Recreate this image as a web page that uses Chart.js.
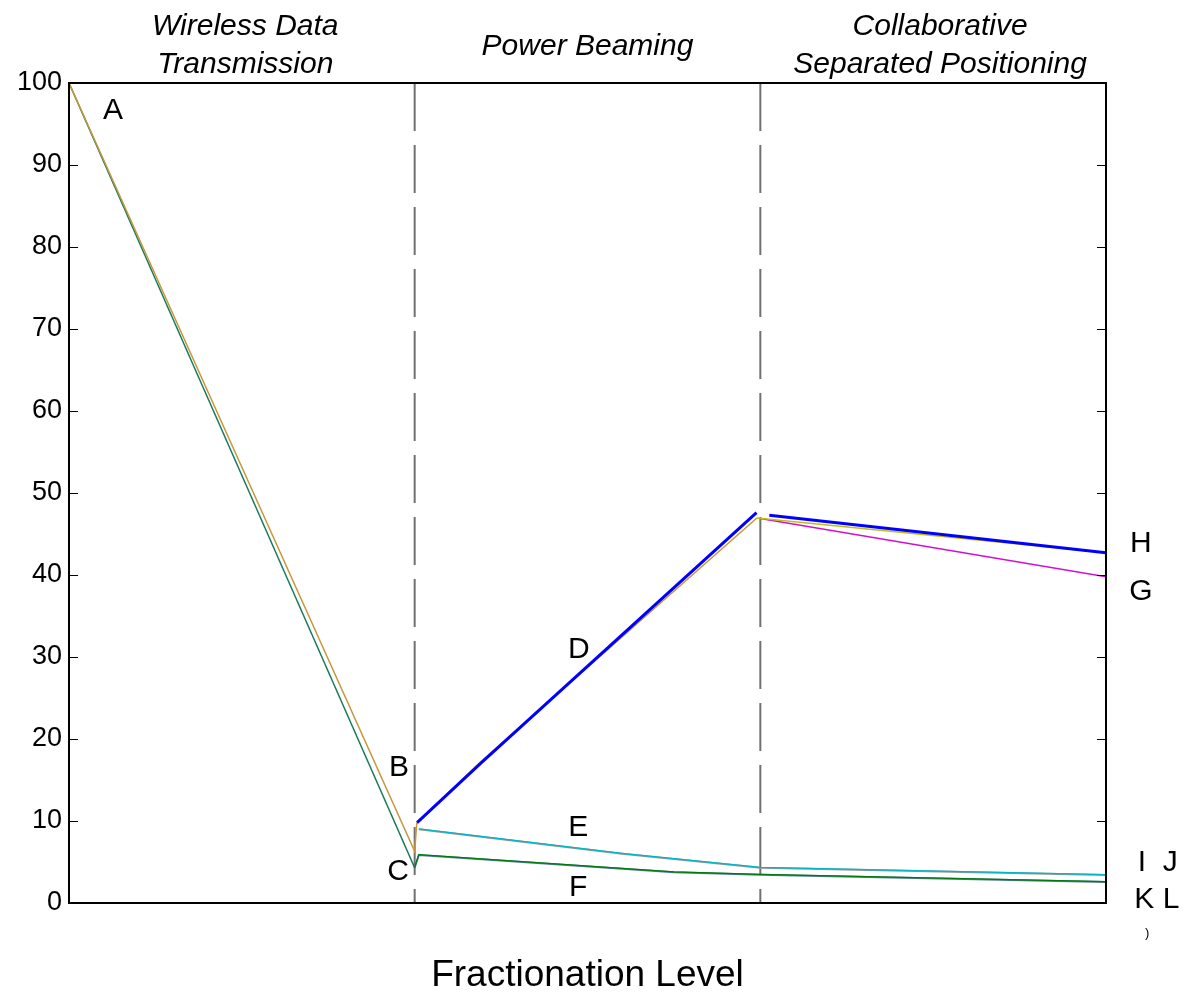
<!DOCTYPE html>
<html>
<head>
<meta charset="utf-8">
<script src="https://cdn.jsdelivr.net/npm/chart.js@4/dist/chart.umd.min.js"></script>
<style>
  html, body { margin: 0; padding: 0; background: #fff; }
  #wrap { width: 1184px; height: 993px; }
</style>
</head>
<body>
<div id="wrap"><canvas id="chart" width="1184" height="993"></canvas></div>
<script>
// y ticks
const yTicks = [0, 10, 20, 30, 40, 50, 60, 70, 80, 90, 100];

// A -> B -> D (brown)
const pathB_x = [0, 1, 1.006, 1.19, 1.99];
const pathB_y = [100, 6.3, 9.7, 17.2, 46.95];
// A -> C (dark teal)
const pathC_x = [0, 1];
const pathC_y = [100, 4.3];
// C -> F (green + slate)
const pathF_x = [1, 1.012, 1.75, 2, 3];
const pathF_y = [4.3, 5.85, 3.75, 3.45, 2.55];
// E (cyan + grey)
const pathE_x = [1.012, 1.6, 2, 3];
const pathE_y = [9.0, 6.0, 4.3, 3.4];
// D (blue)
const pathD_x = [1.007, 1.19, 1.989];
const pathD_y = [9.8, 17.0, 47.6];
// H (blue)
const pathH_x = [2.026, 3];
const pathH_y = [47.3, 42.7];
// yellow
const pathY_x = [1.99, 3];
const pathY_y = [46.95, 42.7];
// G (magenta)
const pathG_x = [2.0, 3];
const pathG_y = [46.9, 39.8];

// level boundaries (dashed)
const boundaries = [1, 2];

const sectionTitles = [
  { x: 0.51, lines: ['Wireless Data', 'Transmission'] },
  { x: 1.50, lines: ['Power Beaming'] },
  { x: 2.52, lines: ['Collaborative', 'Separated Positioning'] }
];

const pointLabels = [
  { t: 'A', x: 0.127, y: 96.9 },
  { t: 'B', x: 0.955, y: 16.8 },
  { t: 'C', x: 0.952, y: 4.0 },
  { t: 'D', x: 1.475, y: 31.1 },
  { t: 'E', x: 1.473, y: 9.4 },
  { t: 'F', x: 1.473, y: 2.1 },
  { t: 'H', x: 3.101, y: 44.0 },
  { t: 'G', x: 3.101, y: 38.2 },
  { t: 'I  J', x: 3.15, y: 5.1 },
  { t: 'K L', x: 3.147, y: 0.7 }
];

function pts(xs, ys) {
  return xs.map((x, i) => ({ x: x, y: ys[i] }));
}

function lineSet(xs, ys, color, width, order) {
  return {
    data: pts(xs, ys),
    borderColor: color,
    borderWidth: width,
    pointRadius: 0,
    tension: 0,
    fill: false,
    order: order
  };
}

const datasets = [];
boundaries.forEach(b => {
  datasets.push({
    data: [{ x: b, y: 100 }, { x: b, y: 0 }],
    borderColor: '#707070',
    borderWidth: 2,
    borderDash: [48, 14],
    pointRadius: 0,
    order: 20
  });
});
datasets.push(lineSet(pathC_x, pathC_y, '#177a5c', 1.5, 5));
datasets.push(lineSet(pathB_x, pathB_y, '#c8963c', 1.5, 4));
datasets.push(lineSet(pathF_x, pathF_y, '#4d7f86', 2, 6));
datasets.push(lineSet(pathF_x, pathF_y.map(v => v + 0.05), '#007a10', 1.2, 5));
datasets.push(lineSet(pathE_x, pathE_y, '#8a9a9c', 2, 6));
datasets.push(lineSet(pathE_x, pathE_y.map(v => v + 0.05), '#00b8c4', 1.2, 5));
datasets.push(lineSet(pathY_x, pathY_y, '#c8bc10', 1.5, 4));
datasets.push(lineSet(pathG_x, pathG_y, '#d010d0', 1.5, 4));
datasets.push(lineSet(pathD_x, pathD_y, '#0000ff', 3, 1));
datasets.push(lineSet(pathH_x, pathH_y, '#0000ff', 3, 1));

const decor = {
  id: 'decor',
  afterDraw(chart) {
    const c = chart.ctx;
    const a = chart.chartArea;
    const xs = chart.scales.x;
    const ys = chart.scales.y;
    c.save();
    // box
    c.strokeStyle = '#000';
    c.lineWidth = 2;
    c.strokeRect(a.left, a.top, a.right - a.left, a.bottom - a.top);
    // inward ticks both sides
    c.lineWidth = 1;
    yTicks.forEach(v => {
      const py = Math.round(ys.getPixelForValue(v)) + 0.5;
      c.beginPath();
      c.moveTo(a.left, py); c.lineTo(a.left + 9, py);
      c.moveTo(a.right, py); c.lineTo(a.right - 9, py);
      c.stroke();
    });
    c.fillStyle = '#000';
    c.textAlign = 'center';
    c.textBaseline = 'alphabetic';
    c.font = 'italic 30px "Liberation Sans", Arial, sans-serif';
    sectionTitles.forEach(s => {
      const px = xs.getPixelForValue(s.x);
      if (s.lines.length === 2) {
        c.fillText(s.lines[0], px, 35);
        c.fillText(s.lines[1], px, 73);
      } else {
        c.fillText(s.lines[0], px, 55);
      }
    });
    c.textBaseline = 'middle';
    c.font = '30px "Liberation Sans", Arial, sans-serif';
    pointLabels.forEach(l => {
      c.fillText(l.t, xs.getPixelForValue(l.x), ys.getPixelForValue(l.y) + 2);
    });
    c.font = '13px "Liberation Sans", Arial, sans-serif';
    c.fillText(')', xs.getPixelForValue(3.119), ys.getPixelForValue(-3.7));
    c.font = '37px "Liberation Sans", Arial, sans-serif';
    c.fillText('Fractionation Level', (a.left + a.right) / 2 + 0, 976);
    c.restore();
  }
};

new Chart(document.getElementById('chart'), {
  type: 'line',
  data: { datasets: datasets },
  options: {
    responsive: false,
    animation: false,
    events: [],
    layout: { padding: { top: 83, right: 78, bottom: 90, left: 0 } },
    plugins: { legend: { display: false }, tooltip: { enabled: false } },
    scales: {
      x: {
        type: 'linear',
        min: 0,
        max: 3,
        display: false
      },
      y: {
        min: 0,
        max: 100,
        afterFit: scale => { scale.width = 69; },
        afterBuildTicks: scale => { scale.ticks = yTicks.map(v => ({ value: v })); },
        border: { display: false },
        grid: { display: false, drawTicks: false },
        ticks: {
          padding: 7,
          color: '#000',
          font: { family: '"Liberation Sans", Arial, sans-serif', size: 27 }
        }
      }
    }
  },
  plugins: [decor]
});
</script>
</body>
</html>
